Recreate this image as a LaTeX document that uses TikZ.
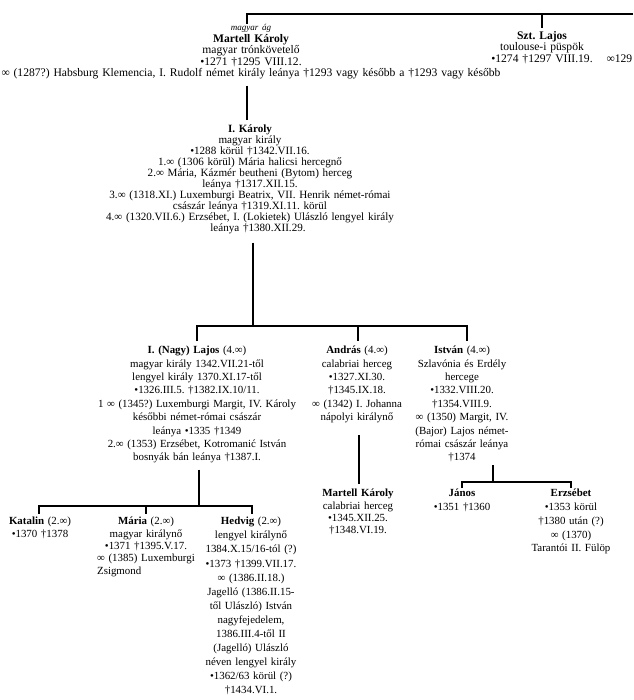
\documentclass[tikz,border=0pt]{standalone}
\usepackage{fontspec}
\setmainfont{Liberation Serif}
\usepackage{calc}
\frenchspacing
\tikzset{
  conn/.style={line width=2.6pt, line cap=butt, line join=miter},
  blk/.style={anchor=north, inner sep=0pt, align=center},
  fa/.style={font=\fontsize{11.6}{11.6}\selectfont},
  fb/.style={font=\fontsize{11.1}{11}\selectfont},
  fc/.style={font=\fontsize{10.9}{13.4}\selectfont},
  fd/.style={font=\fontsize{10.9}{13.8}\selectfont},
  fe/.style={font=\fontsize{10.9}{12.4}\selectfont},
  ff/.style={font=\fontsize{10.9}{14.1}\selectfont},
}
\begin{document}
\begin{tikzpicture}[x=1pt,y=-1pt]
\useasboundingbox[fill=white] (0,0) rectangle (633,700);

% ---- generation 0 ----
\node[blk,fa,text width=560pt] (mk) at (251,24) {{\fontsize{9}{9}\selectfont\itshape magyar ág}\\
\textbf{Martell Károly}\\ magyar trónkövetelő\\ •1271 †1295 VIII.12.\\
∞ (1287?) Habsburg Klemencia, I. Rudolf német király leánya †1293 vagy később a †1293 vagy később};

\node[blk,fa,text width=140pt] (szt) at (542,31) {\textbf{Szt. Lajos}\\ toulouse-i püspök\\
•1274 †1297 VIII.19.\rlap{\hspace{1.2em}∞129}};

% ---- generation 1 ----
\node[blk,fb,text width=380pt] (ik) at (250,125) {\textbf{I. Károly}\\ magyar király\\
•1288 körül †1342.VII.16.\\
1.∞ (1306 körül) Mária halicsi hercegnő\\
2.∞ Mária, Kázmér beutheni (Bytom) herceg\hspace*{76pt}\\
leánya †1317.XII.15.\hspace*{12pt}\\
3.∞ (1318.XI.) Luxemburgi Beatrix, VII. Henrik német-római\\
császár leánya †1319.XI.11. körül\hspace*{64pt}\\
4.∞ (1320.VII.6.) Erzsébet, I. (Lokietek) Ulászló lengyel király\\
\hspace*{16pt}leánya †1380.XII.29.};

% ---- generation 2 ----
\node[blk,fc,text width=240pt] (lajos) at (197,346) {\textbf{I. (Nagy) Lajos} (4.∞)\\
magyar király 1342.VII.21-től\\ lengyel király 1370.XI.17-től\\
•1326.III.5. †1382.IX.10/11.\\
1 ∞ (1345?) Luxemburgi Margit, IV. Károly\\
későbbi német-római császár\hspace*{54pt}\\
leánya •1335 †1349\\
2.∞ (1353) Erzsébet, Kotromanić István\\
bosnyák bán leánya †1387.I.\hspace*{40pt}};

\node[blk,fc,text width=110pt] (andras) at (357,346) {\textbf{András} (4.∞)\\ calabriai herceg\\
•1327.XI.30.\\ †1345.IX.18.\\ ∞ (1342) I. Johanna\\ nápolyi királynő};

\node[blk,fc,text width=110pt] (istvan) at (462,346) {\textbf{István} (4.∞)\\ Szlavónia és Erdély\\ hercege\\
•1332.VIII.20.\\ †1354.VIII.9.\\ ∞ (1350) Margit, IV.\\ (Bajor) Lajos német-\\ római császár leánya\\ †1374};

% ---- generation 3 ----
\node[blk,fe,text width=110pt] (martell) at (358,489) {\textbf{Martell Károly}\\ calabriai herceg\\
•1345.XII.25.\\ †1348.VI.19.};

\node[blk,fd,text width=90pt] (janos) at (462,489) {\textbf{János}\\ •1351 †1360};
\node[blk,fd,text width=110pt] (erzsebet) at (571,489) {\textbf{Erzsébet}\\ •1353 körül\\ †1380 után (?)\\
∞ (1370)\\ Tarantói II. Fülöp};

\node[blk,fe,text width=80pt] (katalin) at (40,517) {\textbf{Katalin} (2.∞)\\ •1370 †1378};
\node[blk,fe,text width=110pt] (maria) at (146,517) {\textbf{Mária} (2.∞)\\ magyar királynő\\
•1371 †1395.V.17.\\ ∞ (1385) Luxemburgi\\
\makebox[\widthof{∞ (1385) Luxemburgi}][l]{Zsigmond}};
\node[blk,ff,text width=110pt] (hedvig) at (251,517) {\textbf{Hedvig} (2.∞)\\ lengyel királynő\\
1384.X.15/16-tól (?)\\ •1373 †1399.VII.17.\\ ∞ (1386.II.18.)\\ Jagelló (1386.II.15-\\
től Ulászló) István\\ nagyfejedelem,\\ 1386.III.4-től II\\ (Jagelló) Ulászló\\
néven lengyel király\\ •1362/63 körül (?)\\ †1434.VI.1.};

% ---- connectors ----
\coordinate (tR) at (633,14);
\coordinate (jTop) at (247,14);
\draw[conn] (tR) -- (jTop) -- (jTop |- mk.north);
\draw[conn] (szt.north |- jTop) -- ([yshift=3pt]szt.north);
\draw[conn] ([yshift=-6pt]mk.south -| jTop) -- ([yshift=5pt]ik.north -| jTop);

\coordinate (jK) at (253,326);
\coordinate (jL) at (197,326);
\coordinate (jA) at (358,326);
\coordinate (jI) at (467,326);
\draw[conn] ([yshift=-8pt]ik.south -| jK) -- (jK);
\draw[conn] ([yshift=5pt]lajos.north -| jL) -- (jL) -- (jI) -- ([yshift=5pt]istvan.north -| jI);
\draw[conn] (jA) -- ([yshift=5pt]andras.north -| jA);

\coordinate (cL) at (199,506);
\coordinate (cK) at (39,506);
\coordinate (cM) at (146,506);
\coordinate (cH) at (252,506);
\draw[conn] ([yshift=-6pt]lajos.south -| cL) -- (cL);
\draw[conn] ([yshift=3pt]katalin.north -| cK) -- (cK) -- (cH) -- ([yshift=3pt]hedvig.north -| cH);
\draw[conn] (cM) -- ([yshift=3pt]maria.north -| cM);

\coordinate (cA) at (359,435);
\draw[conn] (cA) -- ([yshift=5pt]martell.north -| cA);

\coordinate (cI) at (493,482);
\coordinate (cJ) at (462,482);
\coordinate (cE) at (571,482);
\draw[conn] ([yshift=-3pt]istvan.south -| cI) -- (cI);
\draw[conn] ([yshift=1pt]janos.north -| cJ) -- (cJ) -- (cE) -- ([yshift=1pt]erzsebet.north -| cE);
\end{tikzpicture}
\end{document}
